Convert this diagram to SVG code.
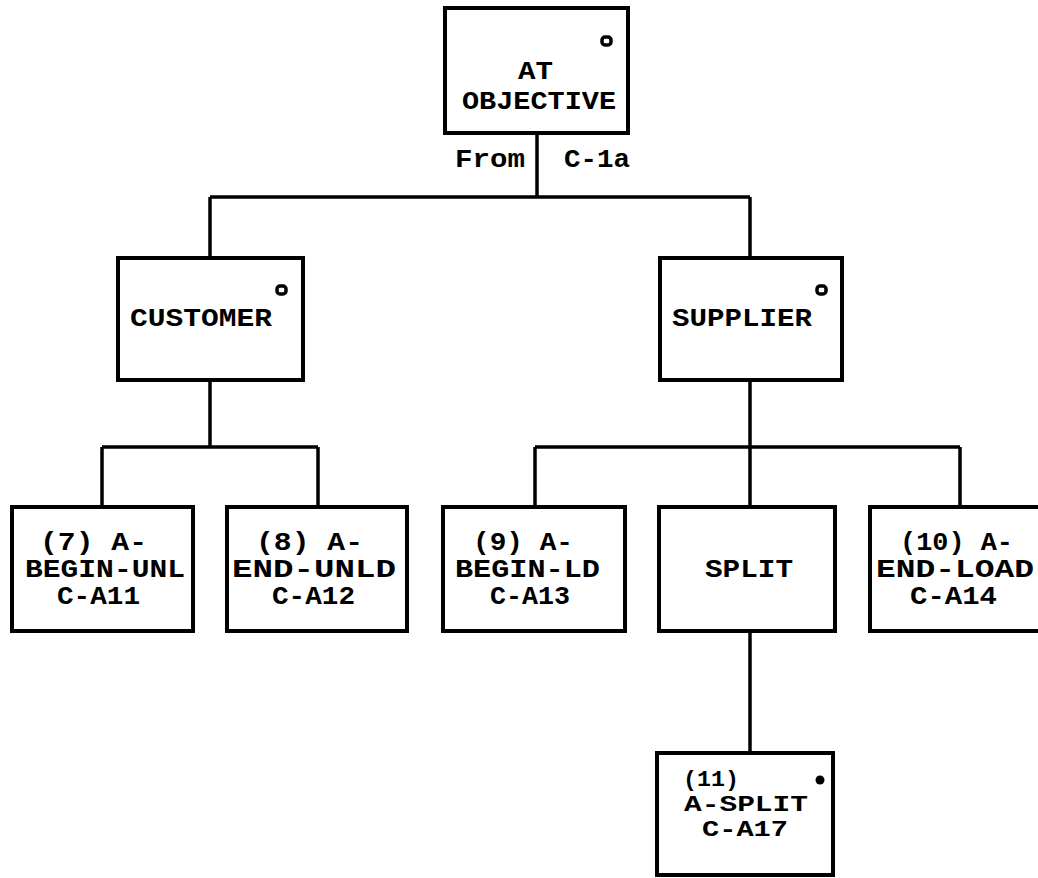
<svg xmlns="http://www.w3.org/2000/svg" width="1038" height="878" viewBox="0 0 1038 878">
<style>
.box{fill:#fff;stroke:#000;stroke-width:4}
.c{fill:none;stroke:#000;stroke-width:3.5}
.t{font-family:"Liberation Mono","DejaVu Sans Mono",monospace;font-weight:bold;font-size:25px;fill:#000}
.s{font-size:22px}
.mk{fill:#fff;stroke:#000;stroke-width:3.5}
</style>
<rect width="1038" height="878" fill="#fff"/>
<g id="connectors">
<path class="c" d="M537 133V197M210 197H750M210 197V258M750 197V258"/>
<path class="c" d="M210 380V447M102 447H318M102 447V507M318 447V507"/>
<path class="c" d="M750 380V447M535 447H960M535 447V507M750 447V507M960 447V507"/>
<path class="c" d="M750 631V753"/>
</g>
<g id="n-objective">
<rect class="box" x="445" y="8" width="183" height="125"/>
<rect class="mk" x="602" y="37" width="9" height="8" rx="3"/>
<text class="t" x="518" y="79" textLength="35" lengthAdjust="spacingAndGlyphs">AT</text>
<text class="t" x="462" y="109" textLength="154" lengthAdjust="spacingAndGlyphs">OBJECTIVE</text>
</g>
<g id="label-from">
<text class="t" x="455" y="167" textLength="70" lengthAdjust="spacingAndGlyphs">From</text>
<text class="t" x="564" y="167" textLength="66" lengthAdjust="spacingAndGlyphs">C-1a</text>
</g>
<g id="n-customer">
<rect class="box" x="118" y="258" width="185" height="122"/>
<rect class="mk" x="277" y="286" width="9" height="8" rx="3"/>
<text class="t" x="130" y="326" textLength="142" lengthAdjust="spacingAndGlyphs">CUSTOMER</text>
</g>
<g id="n-supplier">
<rect class="box" x="660" y="258" width="182" height="122"/>
<rect class="mk" x="817" y="286" width="9" height="8" rx="3"/>
<text class="t" x="672" y="326" textLength="140" lengthAdjust="spacingAndGlyphs">SUPPLIER</text>
</g>
<g id="n7">
<rect class="box" x="12" y="507" width="181" height="124"/>
<text class="t" x="40" y="550" textLength="107" lengthAdjust="spacingAndGlyphs">(7) A-</text>
<text class="t" x="25" y="577" textLength="160" lengthAdjust="spacingAndGlyphs">BEGIN-UNL</text>
<text class="t" x="57" y="604" textLength="83" lengthAdjust="spacingAndGlyphs">C-A11</text>
</g>
<g id="n8">
<rect class="box" x="227" y="507" width="180" height="124"/>
<text class="t" x="256" y="550" textLength="107" lengthAdjust="spacingAndGlyphs">(8) A-</text>
<text class="t" x="232" y="577" textLength="164" lengthAdjust="spacingAndGlyphs">END-UNLD</text>
<text class="t" x="272" y="604" textLength="83" lengthAdjust="spacingAndGlyphs">C-A12</text>
</g>
<g id="n9">
<rect class="box" x="443" y="507" width="182" height="124"/>
<text class="t" x="473" y="550" textLength="100" lengthAdjust="spacingAndGlyphs">(9) A-</text>
<text class="t" x="455" y="577" textLength="145" lengthAdjust="spacingAndGlyphs">BEGIN-LD</text>
<text class="t" x="490" y="604" textLength="80" lengthAdjust="spacingAndGlyphs">C-A13</text>
</g>
<g id="n-split">
<rect class="box" x="659" y="507" width="176" height="124"/>
<text class="t" x="705" y="577" textLength="88" lengthAdjust="spacingAndGlyphs">SPLIT</text>
</g>
<g id="n10">
<rect class="box" x="870" y="507" width="180" height="124"/>
<text class="t" x="900" y="550" textLength="113" lengthAdjust="spacingAndGlyphs">(10) A-</text>
<text class="t" x="876" y="577" textLength="158" lengthAdjust="spacingAndGlyphs">END-LOAD</text>
<text class="t" x="910" y="604" textLength="87" lengthAdjust="spacingAndGlyphs">C-A14</text>
</g>
<g id="n11">
<rect class="box" x="657" y="753" width="176" height="122"/>
<circle cx="820" cy="780" r="4.5" fill="#000"/>
<text class="t s" x="683" y="786" textLength="56" lengthAdjust="spacingAndGlyphs">(11)</text>
<text class="t s" x="684" y="811" textLength="124" lengthAdjust="spacingAndGlyphs">A-SPLIT</text>
<text class="t s" x="702" y="836" textLength="86" lengthAdjust="spacingAndGlyphs">C-A17</text>
</g>
</svg>
